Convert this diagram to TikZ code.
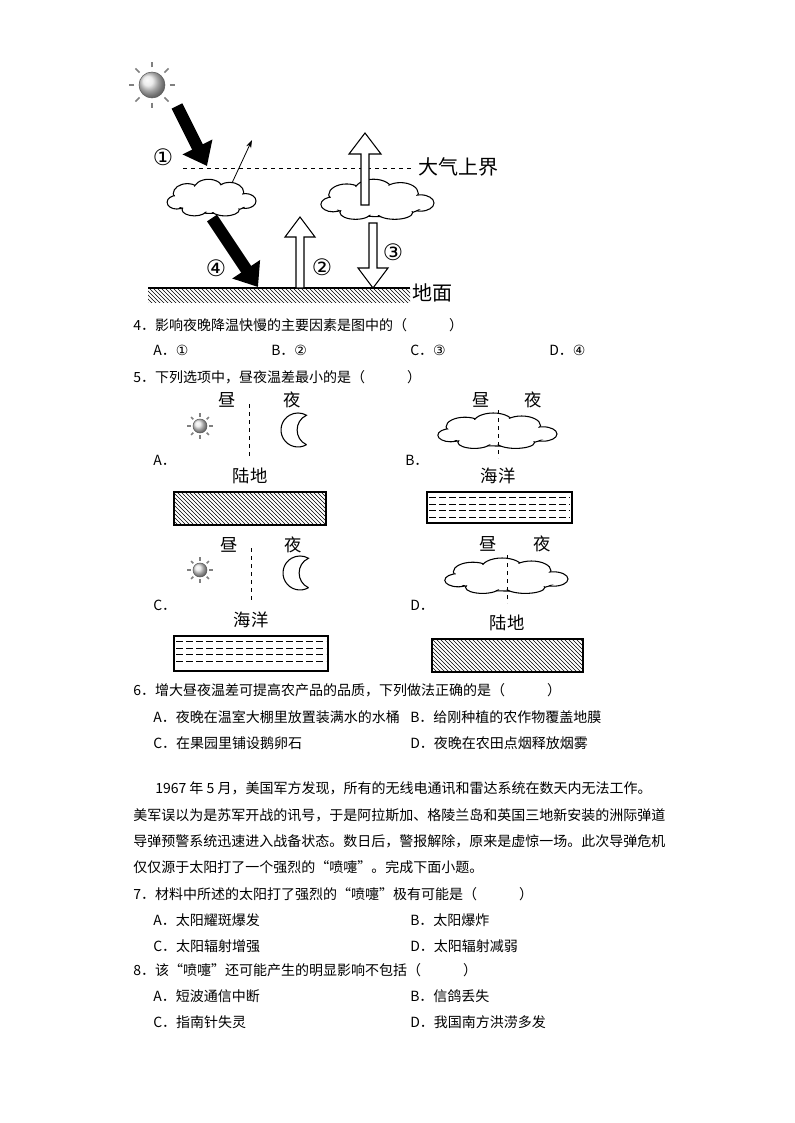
\documentclass[tikz,border=0pt]{standalone}
\usepackage{fontspec}
\setmainfont{Noto Sans CJK SC}
\newfontfamily\symf{DejaVu Sans}
\usetikzlibrary{arrows.meta,patterns,shadings}
\begin{document}
\begin{tikzpicture}[x=0.75pt,y=-0.75pt,
  txt/.style={anchor=west,inner sep=0pt,font=\fontsize{10.5}{12}\selectfont},
  lab/.style={inner sep=0pt,font=\fontsize{13}{14}\selectfont},
  big/.style={inner sep=0pt,font=\fontsize{15}{16}\selectfont},
  circ/.style={inner sep=0pt,font=\symf\fontsize{17}{17}\selectfont},
  blackarr/.style={line width=9pt,-{Triangle[length=16pt,width=24pt]}},
  hollow/.style={draw,fill=white,line width=0.8pt},
  pics/cloud/.style={code={
    \foreach \cx/\cy/\rx/\ry in {-0.28/-0.12/0.16/0.16,-0.04/-0.18/0.17/0.17,0.2/-0.14/0.16/0.16,0.38/0.0/0.12/0.12,-0.4/0.02/0.11/0.11,0/0.03/0.4/0.17,-0.2/0.14/0.14/0.1,0.15/0.14/0.16/0.1}{
      \draw[line width=0.8pt,fill=white] (\cx,\cy) ellipse[x radius=\rx,y radius=\ry];}
    \foreach \cx/\cy/\rx/\ry in {-0.28/-0.12/0.16/0.16,-0.04/-0.18/0.17/0.17,0.2/-0.14/0.16/0.16,0.38/0.0/0.12/0.12,-0.4/0.02/0.11/0.11,0/0.03/0.4/0.17,-0.2/0.14/0.14/0.1,0.15/0.14/0.16/0.1}{
      \fill[white] (\cx,\cy) ellipse[x radius=\rx-0.012,y radius=\ry-0.025];}
  }},
  pics/sun/.style={code={
    \foreach \a in {0,45,...,315}{\draw[gray,line width=1.2pt] (\a:#1*1.35) -- (\a:#1*1.8);}
    \shade[ball color=white!80!gray] (0,0) circle[radius=#1];
    \draw[gray!70!black,line width=0.4pt] (0,0) circle[radius=#1];
  }},
  pics/moon/.style={code={
    \draw[line width=0.8pt,fill=white] (8.5,14.7) arc[start angle=60,end angle=300,radius=17]
      .. controls (-4,-9) and (-4,9) .. (8.5,14.7);
  }},
  ocean/.style={dashed,dash pattern=on 5pt off 2.5pt,line width=0.5pt}]
\useasboundingbox (0,0) rectangle (794,1123);

% ---------- top diagram ----------
\pic at (152,85) {sun=13};
\draw[blackarr] (177,106) -- (207,166);
\node[circ] (c1) at (163,157) {①};
\draw[dashed,line width=0.6pt] (183,168) -- (412,168);
\node[big,anchor=west] (top) at (418,167) {大气上界};
\pic[xscale=88,yscale=62] at (212,201) {cloud};
\pic[xscale=112,yscale=68] at (378,203) {cloud};
\draw[-{Stealth[length=6pt,width=4pt]},line width=0.6pt] (232,183) -- (252,140);
\draw[blackarr] (212,218) -- (258,287);
\node[circ] (c4) at (216,268) {④};
% ground
\fill[pattern=north west lines] (148,288) rectangle (410,302);
\draw[line width=0.8pt] (148,288) -- (410,288);
\node[big,anchor=west] (gnd) at (412,293) {地面};
% arrow 2
\draw[hollow] (296,288) -- (296,237) -- (285,237) -- (300,217) -- (315,237) -- (304,237) -- (304,288) -- cycle;
\node[circ] (c2) at (322,267) {②};
% outgoing arrow
\draw[hollow] (361,205) -- (361,154) -- (349,154) -- (365,133) -- (381,154) -- (369,154) -- (369,205) -- cycle;
% arrow 3
\draw[hollow] (369,223) -- (369,268) -- (358,268) -- (373,288) -- (388,268) -- (377,268) -- (377,223) -- cycle;
\node[circ] (c3) at (393,252) {③};

% ---------- questions ----------
\node[txt] (q4) at (133,325) {4．影响夜晚降温快慢的主要因素是图中的（　　　）};
\node[txt] (q4a) at (153,350) {A．\symf ①};
\node[txt] (q4b) at (271,350) {B．\symf ②};
\node[txt] (q4c) at (410,350) {C．\symf ③};
\node[txt] (q4d) at (549,350) {D．\symf ④};
\node[txt] (q5) at (133,377) {5．下列选项中，昼夜温差最小的是（　　　）};

% A
\node[lab] (a1) at (227,400) {昼};
\node[lab] (a2) at (292,400) {夜};
\draw[dashed,line width=0.6pt] (249,404) -- (249,458);
\pic at (200,426) {sun=7};
\pic at (298,430) {moon};
\node[txt] (la) at (153,460) {A．};
\node[lab] (a3) at (250,476) {陆地};
\fill[pattern=north west lines] (174,492) rectangle (326,525);
\draw[line width=0.8pt] (174,492) rectangle (326,525);
% B
\node[lab] (b1) at (481,400) {昼};
\node[lab] (b2) at (533,400) {夜};
\pic[xscale=118,yscale=60] at (498,434) {cloud};
\draw[dashed,line width=0.6pt] (498,410) -- (498,458);
\node[txt] (lb) at (405,460) {B．};
\node[lab] (b3) at (498,476) {海洋};
\draw[line width=0.8pt] (427,492) rectangle (572,523);
\foreach \yy in {497.5,504,...,519}{\draw[ocean] (429,\yy) -- (570,\yy);}
% C
\node[lab] (cc1) at (229,545) {昼};
\node[lab] (cc2) at (293,545) {夜};
\draw[dashed,line width=0.6pt] (251,548) -- (251,602);
\pic at (200,570) {sun=7};
\pic at (300,573) {moon};
\node[txt] (lc) at (153,605) {C．};
\node[lab] (cc3) at (251,620) {海洋};
\draw[line width=0.8pt] (174,636) rectangle (328,671);
\foreach \yy in {641.5,648,...,667}{\draw[ocean] (176,\yy) -- (326,\yy);}
% D
\node[lab] (d1) at (488,544) {昼};
\node[lab] (d2) at (542,544) {夜};
\pic[xscale=122,yscale=60] at (507,579) {cloud};
\draw[dashed,line width=0.6pt] (507,555) -- (507,603);
\node[txt] (ld) at (410,605) {D．};
\node[lab] (d3) at (507,623) {陆地};
\fill[pattern=north west lines] (432,639) rectangle (583,672);
\draw[line width=0.8pt] (432,639) rectangle (583,672);

\node[txt] (q6) at (133,690) {6．增大昼夜温差可提高农产品的品质，下列做法正确的是（　　　）};
\node[txt] (q6a) at (153,717) {A．夜晚在温室大棚里放置装满水的水桶};
\node[txt] (q6b) at (410,717) {B．给刚种植的农作物覆盖地膜};
\node[txt] (q6c) at (153,743) {C．在果园里铺设鹅卵石};
\node[txt] (q6d) at (410,743) {D．夜晚在农田点烟释放烟雾};

\node[txt] (p1) at (155,788) {1967 年 5 月，美国军方发现，所有的无线电通讯和雷达系统在数天内无法工作。};
\node[txt] (p2) at (133,815) {美军误以为是苏军开战的讯号，于是阿拉斯加、格陵兰岛和英国三地新安装的洲际弹道};
\node[txt] (p3) at (133,841) {导弹预警系统迅速进入战备状态。数日后，警报解除，原来是虚惊一场。此次导弹危机};
\node[txt] (p4) at (133,867) {仅仅源于太阳打了一个强烈的“喷嚏”。完成下面小题。};

\node[txt] (q7) at (133,894) {7．材料中所述的太阳打了强烈的“喷嚏”极有可能是（　　　）};
\node[txt] (q7a) at (153,920) {A．太阳耀斑爆发};
\node[txt] (q7b) at (410,920) {B．太阳爆炸};
\node[txt] (q7c) at (153,946) {C．太阳辐射增强};
\node[txt] (q7d) at (410,946) {D．太阳辐射减弱};
\node[txt] (q8) at (133,970) {8．该“喷嚏”还可能产生的明显影响不包括（　　　）};
\node[txt] (q8a) at (153,996) {A．短波通信中断};
\node[txt] (q8b) at (410,996) {B．信鸽丢失};
\node[txt] (q8c) at (153,1022) {C．指南针失灵};
\node[txt] (q8d) at (410,1022) {D．我国南方洪涝多发};
\end{tikzpicture}
\end{document}
